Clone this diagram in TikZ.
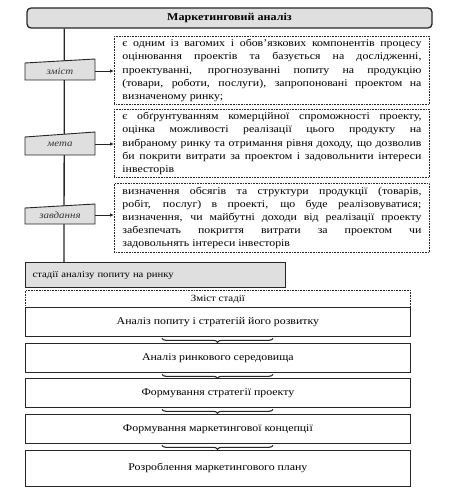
\documentclass[tikz,border=0pt]{standalone}
\usepackage{fontspec}
\setmainfont[FakeStretch=1.15]{Liberation Serif}
\usetikzlibrary{decorations.pathreplacing,arrows.meta}
\begin{document}
\begin{tikzpicture}[x=1pt,y=-1pt,
  ln/.style={draw=black!85},
  titlebox/.style={ln, fill=gray!25, line width=1.3pt, rounded corners=4pt, minimum width=405pt, minimum height=20pt, inner sep=0pt, font=\fontsize{10.5}{11}\selectfont\bfseries},
  lab/.style={inner sep=0pt, minimum width=72pt, minimum height=16pt, text=black!80, font=\fontsize{9.5}{10}\selectfont\itshape},
  trap/.style={ln, fill=gray!25, line width=0.9pt},
  txt/.style={ln, dash pattern=on 0.8pt off 0.8pt, line width=0.9pt, text width=299pt, inner xsep=8pt, inner ysep=1pt, align=justify, anchor=north west, minimum height=68pt, font=\fontsize{10.3}{13.1}\selectfont},
  arr/.style={ln, line width=0.8pt, -{Latex[length=4pt,width=3.5pt]}},
  stagehead/.style={ln, fill=gray!25, line width=1.3pt, minimum width=260pt, minimum height=25pt, inner xsep=7pt, text width=246pt, align=left, anchor=north west, font=\fontsize{9.3}{10}\selectfont},
  hdrbox/.style={ln, dash pattern=on 0.8pt off 0.8pt, line width=0.9pt, minimum width=385pt, minimum height=17pt, anchor=north west, font=\fontsize{9.5}{9.5}\selectfont},
  stbox/.style={ln, line width=0.8pt, minimum width=385pt, anchor=north west, font=\fontsize{10.3}{11}\selectfont},
  brc/.style={ln, line width=1.1pt, decorate, decoration={brace, amplitude=4pt, mirror}}
]
\useasboundingbox (0,0) rectangle (450,500);

\node[titlebox] (title) at (229.5,18) {Маркетинговий аналіз};
\node[stagehead] (stage) at (25,262) {стадії аналізу попиту на ринку};
\draw[ln, line width=1.3pt] ([xshift=38pt]title.south west) -- ([xshift=39pt]stage.north west);

\node[txt] (t1) at (114,36) {є одним із вагомих і обов'язкових компонентів процесу\linebreak оцінювання проектів та базується на дослідженні,\linebreak проектуванні, прогнозуванні попиту на продукцію\linebreak (товари, роботи, послуги), запропоновані проектом на\linebreak визначеному ринку;};
\node[txt] (t2) at (114,109) {є обґрунтуванням комерційної спроможності проекту,\linebreak оцінка можливості реалізації цього продукту на\linebreak вибраному ринку та отримання рівня доходу, що дозволив\linebreak би покрити витрати за проектом і задовольнити інтереси\linebreak інвесторів};
\node[txt, minimum height=69pt] (t3) at (114,183) {визначення обсягів та структури продукції (товарів,\linebreak робіт, послуг) в проекті, що буде реалізовуватися;\linebreak визначення, чи майбутні доходи від реалізації проекту\linebreak забезпечать покриття витрати за проектом чи\linebreak задовольнять інтереси інвесторів};

\filldraw[trap] (25,63) -- (95,59) -- (95,80) -- (25,80) -- cycle;
\node[lab] (zmist) at (60,71) {зміст};
\filldraw[trap] (25,137) -- (95,132) -- (95,155) -- (25,155) -- cycle;
\node[lab] (meta) at (60,144) {мета};
\filldraw[trap] (25,208) -- (95,204) -- (95,224) -- (25,224) -- cycle;
\node[lab] (zavd) at (60,215) {завдання};

\draw[arr] ([xshift=-1pt]zmist.east) -- (zmist.east -| t1.west);
\draw[arr] ([xshift=-1pt]meta.east) -- (meta.east -| t2.west);
\draw[arr] ([xshift=-1pt]zavd.east) -- (zavd.east -| t3.west);

\node[hdrbox] (hdr) at (25,290) {Зміст стадії};
\node[stbox, minimum height=29pt] (s1) at (25,307) {Аналіз попиту і стратегій його розвитку};
\node[stbox, minimum height=29pt] (s2) at (25,343) {Аналіз ринкового середовища};
\node[stbox, minimum height=29pt] (s3) at (25,378) {Формування стратегії проекту};
\node[stbox, minimum height=29pt] (s4) at (25,414) {Формування маркетингової концепції};
\node[stbox, minimum height=36pt] (s5) at (25,450) {Розроблення маркетингового плану};

\draw[brc] ([xshift=137pt,yshift=-1.5pt]s1.south west) -- ([xshift=248pt,yshift=-1.5pt]s1.south west);
\draw[brc] ([xshift=137pt,yshift=-1.5pt]s2.south west) -- ([xshift=248pt,yshift=-1.5pt]s2.south west);
\draw[brc] ([xshift=137pt,yshift=-1.5pt]s3.south west) -- ([xshift=248pt,yshift=-1.5pt]s3.south west);
\draw[brc] ([xshift=137pt,yshift=-1.5pt]s4.south west) -- ([xshift=248pt,yshift=-1.5pt]s4.south west);
\end{tikzpicture}
\end{document}
